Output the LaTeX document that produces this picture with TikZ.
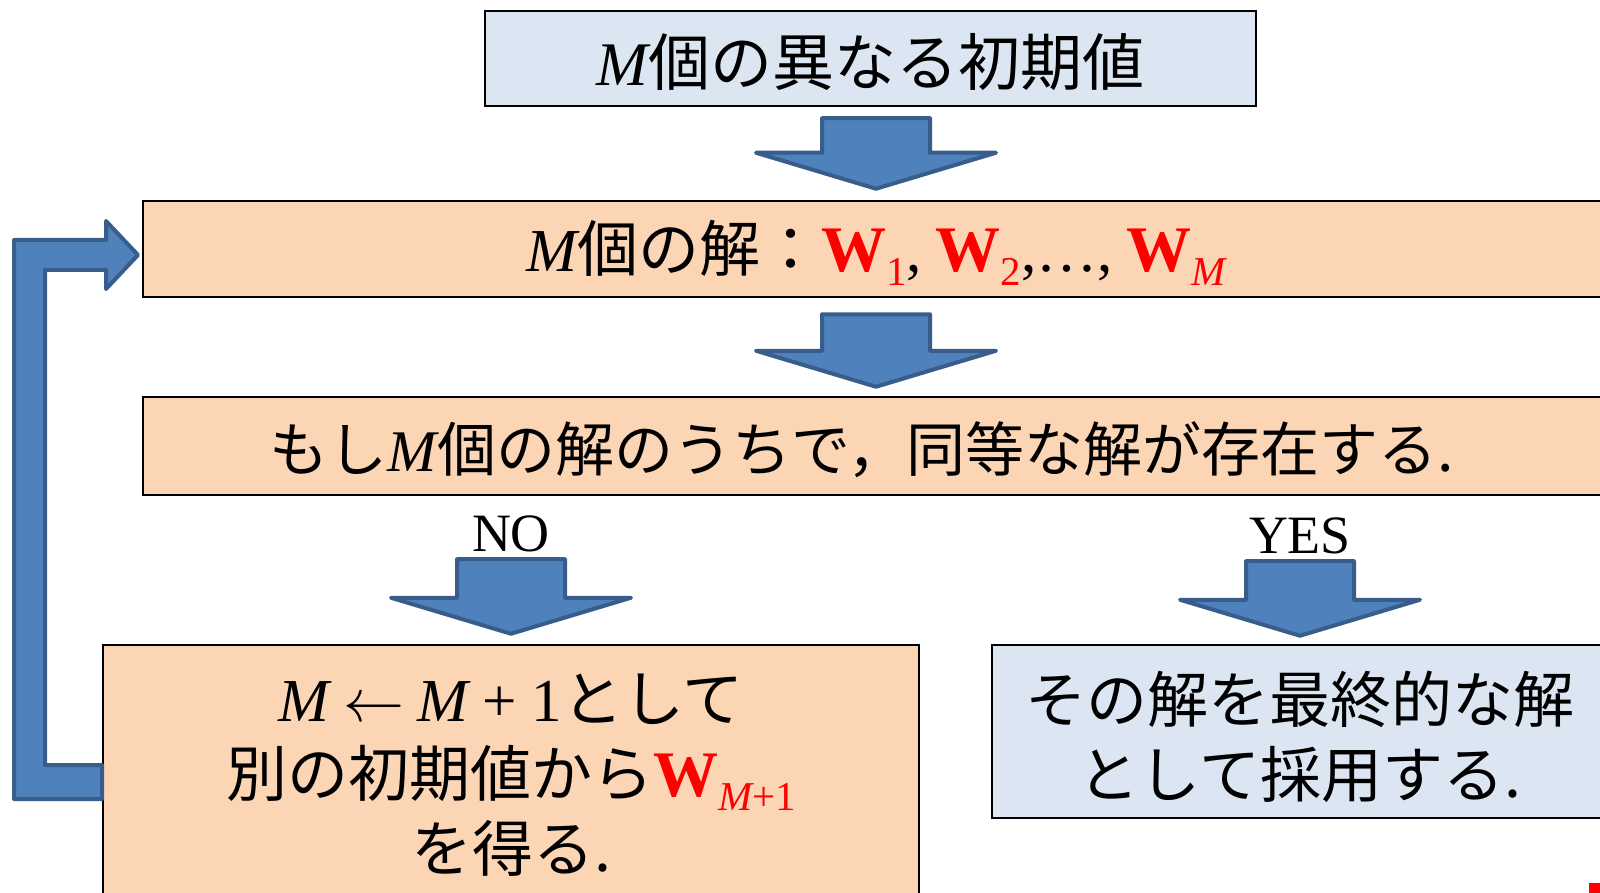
\RequirePackage{fix-cm}
\documentclass[tikz,border=0pt]{standalone}
\usepackage{fontspec}
\setmainfont{Liberation Serif}
\newfontfamily\jp{Noto Sans CJK JP}
\usetikzlibrary{calc}
\definecolor{peach}{HTML}{FCD5B5}
\definecolor{paleblue}{HTML}{DCE6F2}
\definecolor{arrowfill}{HTML}{4F81BD}
\definecolor{arrowline}{HTML}{385D8A}
\newcommand\vM{{\rmfamily\itshape M}}
\newcommand\vW{{\rmfamily\bfseries\fontsize{65}{75}\selectfont\color{red}W}}
\newcommand\subs[1]{\raisebox{-14pt}{\rmfamily\fontsize{41}{41}\selectfont\color{red}#1}}
\newcommand\dropby[2]{\raisebox{-#1}[\height][\depth]{#2}}
\newcommand\blockdown[4]{%
  \draw[barrow] let \p1=(#1.south), \p2=(#2.north) in
    (\x2-54pt,\y1-#3) -- (\x2+54pt,\y1-#3) -- (\x2+54pt,\y2+#4+36pt)
    -- (\x2+120pt,\y2+#4+36pt) -- (\x2,\y2+#4) -- (\x2-120pt,\y2+#4+36pt)
    -- (\x2-54pt,\y2+#4+36pt) -- cycle;}
\tikzset{
  box/.style={draw=black, line width=2.5pt, inner sep=0pt, align=center,
    font=\jp\fontsize{61}{75}\selectfont},
  peachbox/.style={box, fill=peach},
  bluebox/.style={box, fill=paleblue},
  lbl/.style={inner sep=0pt, text depth=0pt, font=\rmfamily\fontsize{54}{54}\selectfont},
  barrow/.style={fill=arrowfill, draw=arrowline, line width=4pt, line join=round}
}
\begin{document}
\begin{tikzpicture}[x=1pt,y=-1pt]
\useasboundingbox (0,0) rectangle (1600,893);
\clip (0,0) rectangle (1600,893);

\node[bluebox, minimum width=771pt, minimum height=95pt,
  font=\jp\fontsize{62}{75}\selectfont] (init) at (870.5,58.5)
  {\dropby{4pt}{\vM 個の異なる初期値}};

\node[peachbox, minimum width=1466pt, minimum height=96pt] (sols) at (876,249)
  {\dropby{4pt}{\vM 個の解：\vW\subs{1}{\rmfamily,} \vW\subs{2}{\rmfamily,…,} \vW\subs{\itshape M}}};

\node[peachbox, minimum width=1466pt, minimum height=98pt,
  font=\jp\fontsize{59}{75}\selectfont] (cond) at (876,446)
  {\dropby{4pt}{もし\vM 個の解のうちで，同等な解が存在する.}\hspace*{28pt}};

\node[lbl, anchor=base] (no) at (511,551) {NO};
\node[lbl, anchor=base] (yes) at (1300,553) {YES};

\node[peachbox, minimum width=816pt, minimum height=260pt] (retry) at (511,775)
  {\vM{} $\leftarrow$ \vM{} {\rmfamily + 1}として\\
   別の初期値から\vW\subs{\itshape M\upshape +1}\\
   を得る.};

\node[bluebox, minimum width=616pt, minimum height=173pt] (final) at (1300,731.5)
  {\dropby{13pt}{\begin{tabular}{@{}c@{}}その解を最終的な解\\として採用する.\end{tabular}}};

\blockdown{init}{sols}{11pt}{11pt}
\blockdown{sols}{cond}{16pt}{9pt}
\blockdown{no}{retry}{8pt}{10pt}
\blockdown{yes}{final}{8pt}{8pt}

% loop-back arrow from retry box to solutions box
\draw[barrow] (102,799) -- (14,799) -- (14,240) -- (106,240) -- (106,221)
  -- (138,255) -- (106,289) -- (106,270) -- (45,270) -- (45,765) -- (102,765) -- cycle;

\fill[red] (1589,883) rectangle (1600,893);
\end{tikzpicture}
\end{document}
